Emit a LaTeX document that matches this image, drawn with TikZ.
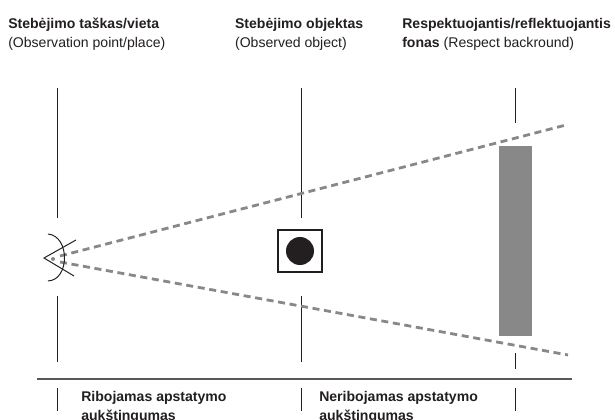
\documentclass[tikz,border=0pt]{standalone}
\usepackage{fontspec}
\setmainfont{Liberation Sans}
\definecolor{dashgray}{RGB}{136, 136, 136}
\definecolor{inkblack}{RGB}{35, 31, 32}
\usetikzlibrary{positioning}
\tikzset{
  caption/.style={anchor=north west, align=left, inner sep=0pt, font=\fontsize{10}{13.5}\selectfont, text=inkblack},
  mark line/.style={draw=inkblack, line width=0.6pt},
  sight line/.style={draw=dashgray, line width=2pt, dash pattern=on 5pt off 3.3pt}
}

\begin{document}
\begin{tikzpicture}
  \useasboundingbox (0, 0) rectangle (15.375, 10.5);

  % Headings
  \node[caption] (pointlabel) at (0.2, 10.06) {\textbf{Stebėjimo taškas/vieta}\\(Observation point/place)};
  \node[caption] (objectlabel) at (5.87, 10.06) {\textbf{Stebėjimo objektas}\\(Observed object)};
  \node[caption] (backlabel) at (10.05, 10.06) {\textbf{Respektuojantis/reflektuojantis}\\\textbf{fonas} (Respect backround)};

  % Vertical marks
  \draw[mark line] (1.425, 8.3) -- (1.425, 5.05);
  \draw[mark line] (1.425, 3.1) -- (1.425, 1.46);
  \draw[mark line] (1.425, 0.8) -- (1.425, 0.225);
  \draw[mark line] (7.525, 8.3) -- (7.525, 5.05);
  \draw[mark line] (7.525, 3.1) -- (7.525, 1.46);
  \draw[mark line] (7.525, 0.8) -- (7.525, 0.225);
  \draw[mark line] (12.875, 8.3) -- (12.875, 7.425);
  \draw[mark line] (12.875, 1.675) -- (12.875, 1.275);
  \draw[mark line] (12.875, 0.8) -- (12.875, 0.225);

  % Background
  \fill[dashgray] (12.475, 2.1) rectangle (13.3, 6.85);

  % Sight lines
  \draw[sight line] (1.5, 4.1) -- (14.15, 7.375);
  \draw[sight line] (1.5, 3.95) -- (14.2, 1.625);

  % Eye
  \draw[mark line, line width=0.7pt] (1.9, 4.5) -- (1.1, 4.05) -- (1.85, 3.6);
  \draw[mark line, line width=0.7pt] (1.2, 4.65) .. controls (1.75, 4.6) and (1.75, 3.5) .. (1.2, 3.475);
  \fill[dashgray] (1.325, 4.025) circle (0.05);

  % Object
  \draw[mark line, line width=0.8pt, fill=white] (6.95, 3.7) rectangle (8.05, 4.75);
  \fill[inkblack] (7.5, 4.225) circle (0.35);

  % Ground line
  \draw[draw=inkblack!75, line width=0.8pt] (0.925, 1.025) -- (14.3, 1.025);

  % Height labels
  \node[caption] (limitlabel) at (2.025, 0.725) {\textbf{Ribojamas apstatymo}\\\textbf{aukštingumas}};
  \node[caption] (freelabel) at (7.975, 0.725) {\textbf{Neribojamas apstatymo}\\\textbf{aukštingumas}};
\end{tikzpicture}
\end{document}
